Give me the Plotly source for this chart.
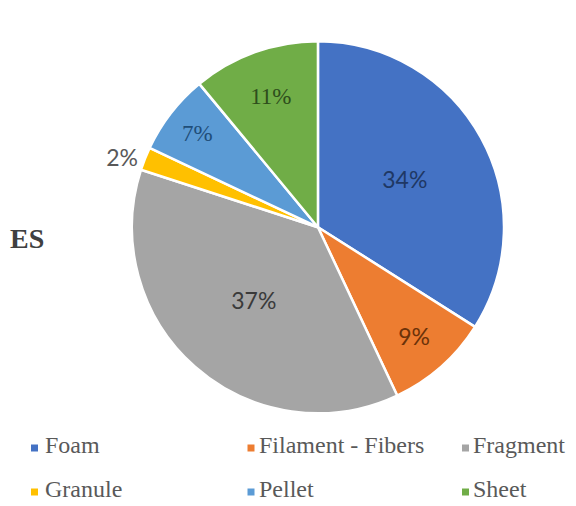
import plotly.graph_objects as go

labels = ["Foam", "Filament - Fibers", "Fragment", "Granule", "Pellet", "Sheet"]
values = [34, 9, 37, 2, 7, 11]
colors = ["#4472C4", "#ED7D31", "#A5A5A5", "#FFC000", "#5B9BD5", "#70AD47"]
text_colors = ["#1F3864", "#6B3209", "#3A3A3A", "#595959", "#1F4E79", "#2E4D1C"]
text_fonts = ["Lato", "Lato", "Lato", "Lato", "Liberation Serif", "Liberation Serif"]
text_pos = ["inside", "inside", "inside", "outside", "inside", "inside"]
side_label = "ES"

W, H = 576, 506

fig = go.Figure(go.Pie(
    labels=labels,
    values=values,
    sort=False,
    direction="clockwise",
    rotation=0,
    marker=dict(colors=colors, line=dict(color="white", width=2.5)),
    texttemplate="%{percent:.0%}",
    textposition=text_pos,
    insidetextorientation="horizontal",
    textfont=dict(family=text_fonts, size=23, color=text_colors),
    domain=dict(x=[0.229, 0.875], y=[0.15, 0.952]),
    hoverinfo="label+percent",
    showlegend=False,
))

fig.add_annotation(
    text="<b>" + side_label + "</b>", x=27 / W, y=1 - 239 / H, xref="paper", yref="paper",
    xanchor="center", yanchor="middle",
    showarrow=False, font=dict(family="Liberation Serif", size=28, color="#404040"),
)

# legend drawn as a 3-column grid
col_sq = [34.5, 251, 465.5]
col_tx = [43, 257, 471]
row_y = [446, 490]
sq = 7
for i, (lab, col) in enumerate(zip(labels, colors)):
    r, c = divmod(i, 3)
    yc = row_y[r]
    fig.add_shape(
        type="rect", xref="paper", yref="paper",
        x0=(col_sq[c] - sq / 2) / W, x1=(col_sq[c] + sq / 2) / W,
        y0=1 - (yc + 2 + sq / 2) / H, y1=1 - (yc + 2 - sq / 2) / H,
        fillcolor=col, line=dict(width=0),
    )
    fig.add_annotation(
        text=lab, x=col_tx[c] / W, y=1 - (yc - 1) / H, xref="paper", yref="paper",
        xanchor="left", yanchor="middle", align="left", showarrow=False,
        font=dict(family="Liberation Serif", size=24, color="#595959"),
    )

fig.update_layout(
    width=W, height=H,
    margin=dict(l=0, r=0, t=0, b=0),
    paper_bgcolor="white", plot_bgcolor="white",
)

fig.write_html(
    "out.html",
    config={"displayModeBar": False},
    post_script="document.body.style.margin='0px';",
)
